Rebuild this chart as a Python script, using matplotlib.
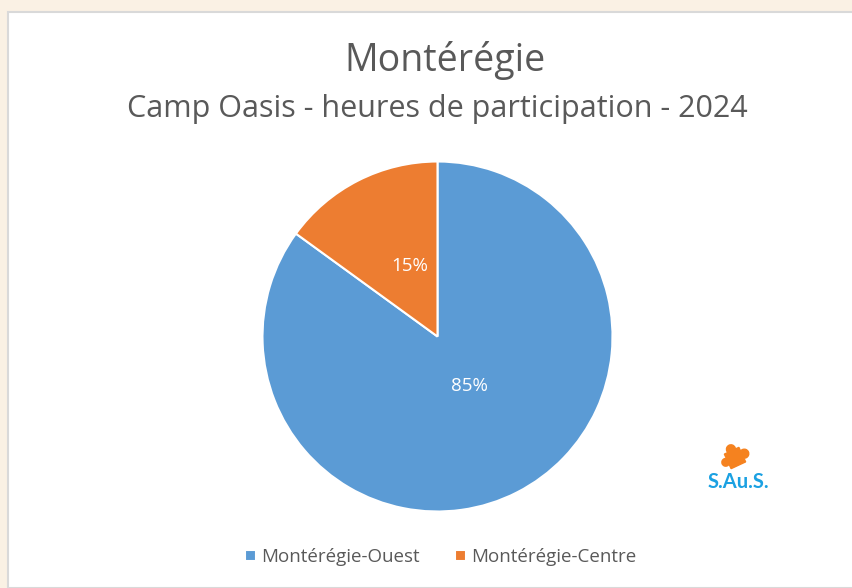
import matplotlib
matplotlib.use('Agg')
import matplotlib.pyplot as plt
from matplotlib.patches import Rectangle, Circle
import matplotlib.transforms as mtrans
import numpy as np

plt.rcParams['font.family'] = ['Open Sans', 'DejaVu Sans']

# chart data
regions = ['Montérégie-Ouest', 'Montérégie-Centre']
shares = [85, 15]
colors = ['#5b9bd5', '#ed7d31']
title = 'Montérégie'
subtitle = 'Camp Oasis - heures de participation - 2024'

W, H = 853, 588
fig = plt.figure(figsize=(W / 100, H / 100), dpi=100)
fig.patch.set_facecolor('#faf1e4')

# white chart panel with a thin grey edge
panel = Rectangle((8 / W, 0), 1, 1 - 12 / H, transform=fig.transFigure,
                  facecolor='white', edgecolor='#d9d9d9', linewidth=1.5, zorder=-10)
fig.patches.append(panel)

cx, cy, r = 437.5, 336.5, 175
ax = fig.add_axes([(cx - r) / W, (H - cy - r) / H, 2 * r / W, 2 * r / H])
wedges, _ = ax.pie(shares, colors=colors, startangle=90, counterclock=False,
                   radius=1, wedgeprops=dict(edgecolor='white', linewidth=1.5))
ax.set_xlim(-1, 1)
ax.set_ylim(-1, 1)
ax.set_aspect('equal')
ax.axis('off')

# percentage labels inside the slices (excel puts them a bit off the bisector)
dists = [0.335, 0.433]
shifts = [5.5, -5.5]
for w, v, d, s in zip(wedges, shares, dists, shifts):
    ang = np.deg2rad((w.theta1 + w.theta2) / 2 + s)
    ax.text(d * np.cos(ang), d * np.sin(ang), f'{v}%', color='white',
            fontsize=13.5, ha='center', va='center')

fig.text(445 / W, 1 - 60 / H, title, fontsize=27, color='#595959',
         ha='center', va='center')
fig.text(437 / W, 1 - 109 / H, subtitle, fontsize=22, color='#595959',
         ha='center', va='center')

# legend
leg = fig.legend(wedges, regions, loc='center', bbox_to_anchor=(441 / W, 1 - 557 / H),
                 ncol=2, frameon=False, fontsize=13.5, handlelength=0.55,
                 handleheight=0.55, handletextpad=0.3, columnspacing=1.9)
for t in leg.get_texts():
    t.set_color('#595959')

# S.Au.S. logo
fig.text(738 / W, 1 - 482 / H, 'S.Au.S.', fontsize=14.5, fontweight='bold',
         color='#1ba1e2', ha='center', va='center', family=['Lato'])
lax = fig.add_axes([(735 - 16) / W, 1 - (458 + 16) / H, 32 / W, 32 / H])
lax.set_xlim(0, 1)
lax.set_ylim(0, 1)
lax.set_aspect('equal')
lax.axis('off')
rot = mtrans.Affine2D().rotate_deg_around(0.5, 0.5, 25) + lax.transData
piece = '#f5821f'
parts = [Rectangle((0.25, 0.25), 0.5, 0.5),
         Circle((0.5, 0.8), 0.14), Circle((0.82, 0.5), 0.14),
         Circle((0.18, 0.5), 0.12)]
for p in parts:
    p.set_color(piece)
    p.set_transform(rot)
    p.set_clip_on(False)
    lax.add_patch(p)

fig.savefig('out.png', dpi=100)
